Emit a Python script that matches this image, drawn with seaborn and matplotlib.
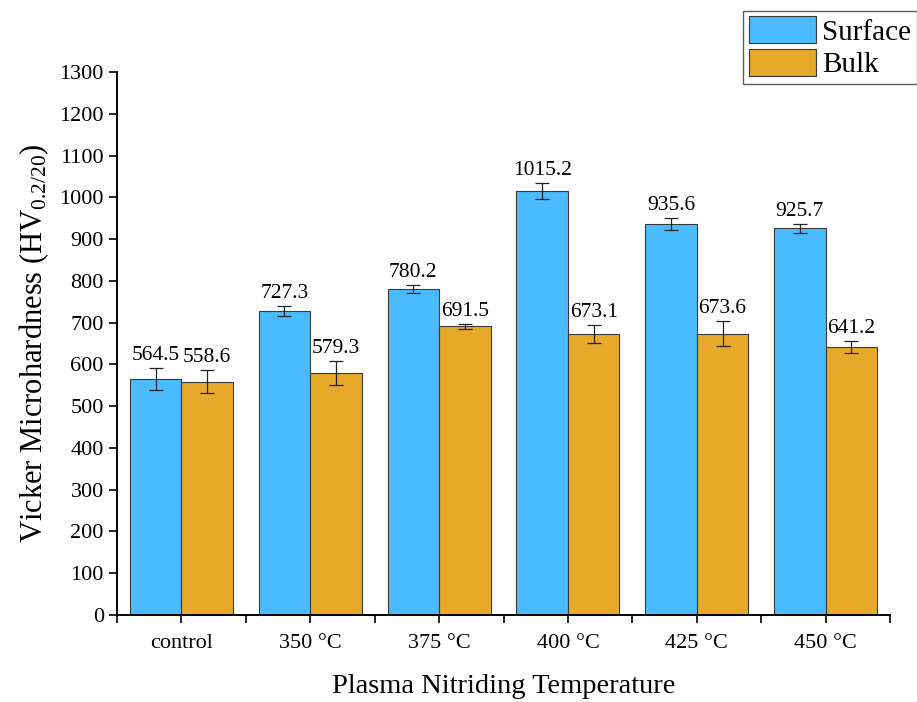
import matplotlib
matplotlib.use("Agg")
import matplotlib.pyplot as plt
import seaborn as sns
import pandas as pd
import numpy as np
from matplotlib.ticker import FixedLocator
from matplotlib.patches import Patch

categories = ["control", "350 °C", "375 °C", "400 °C", "425 °C", "450 °C"]
surface = [564.5, 727.3, 780.2, 1015.2, 935.6, 925.7]
bulk = [558.6, 579.3, 691.5, 673.1, 673.6, 641.2]
surface_err = [27, 12, 9, 20, 15, 10]
bulk_err = [28, 28, 6, 21, 30, 14]
series = ["Surface", "Bulk"]
colors = ["#4BBBFF", "#E6A92A"]

sns.set_style("ticks")
plt.rcParams["font.family"] = ["Liberation Serif", "DejaVu Serif"]
plt.rcParams["mathtext.fontset"] = "custom"
plt.rcParams["mathtext.rm"] = "Liberation Serif"
plt.rcParams["mathtext.it"] = "Liberation Serif:italic"
plt.rcParams["text.color"] = "black"
plt.rcParams["axes.labelcolor"] = "black"

df = pd.DataFrame({
    "cat": categories * 2,
    "val": surface + bulk,
    "series": ["Surface"] * len(categories) + ["Bulk"] * len(categories),
})

fig = plt.figure(figsize=(9.17, 7.02), dpi=100)
ax = fig.add_axes([0.1276, 0.124, 0.8430, 0.7734])

sns.barplot(data=df, x="cat", y="val", hue="series", hue_order=series,
            order=categories, palette=colors, errorbar=None, width=0.8,
            edgecolor="#3a3a3a", linewidth=0.8, saturation=1, ax=ax, legend=False)

for si, s in enumerate(series):
    cont = ax.containers[si]
    vals = surface if s == "Surface" else bulk
    errs = surface_err if s == "Surface" else bulk_err
    for bar, v, e in zip(cont, vals, errs):
        xc = bar.get_x() + bar.get_width() / 2
        ax.errorbar(xc, v, yerr=e, color="#222222", capsize=5, capthick=0.9,
                    elinewidth=0.9, fmt="none")
        ax.text(xc, v + e + 7, f"{v:.1f}", ha="center", va="bottom", fontsize=15.5)

ax.set_xlim(-0.5, 5.5)
ax.set_ylim(0, 1300)
ax.set_yticks(np.arange(0, 1301, 100))
ax.xaxis.set_minor_locator(FixedLocator(np.arange(-0.5, 5.6, 1.0)))
ax.tick_params(axis="both", which="both", direction="out", length=6, width=1.2,
               labelsize=16, colors="black")
ax.tick_params(axis="x", pad=8)
for sp in ["top", "right"]:
    ax.spines[sp].set_visible(False)
for sp in ["left", "bottom"]:
    ax.spines[sp].set_linewidth(1.4)
    ax.spines[sp].set_color("black")

ax.set_xlabel("Plasma Nitriding Temperature", fontsize=20.5, labelpad=15)
ax.set_ylabel(r"Vicker Microhardness (HV$_{\mathregular{0.2/20}}$)", fontsize=22, labelpad=6)

handles = [Patch(facecolor=c, edgecolor="#3a3a3a", linewidth=0.8) for c in colors]
leg = fig.legend(handles, series, loc="upper right", bbox_to_anchor=(1.0, 0.985),
                 fontsize=21, frameon=True, fancybox=False, edgecolor="#333333",
                 handlelength=2.3, handleheight=1.05, borderpad=0.2, labelspacing=0.1,
                 handletextpad=0.2, borderaxespad=0.0)
leg.get_frame().set_linewidth(1.0)

fig.savefig("out.png", dpi=100)
